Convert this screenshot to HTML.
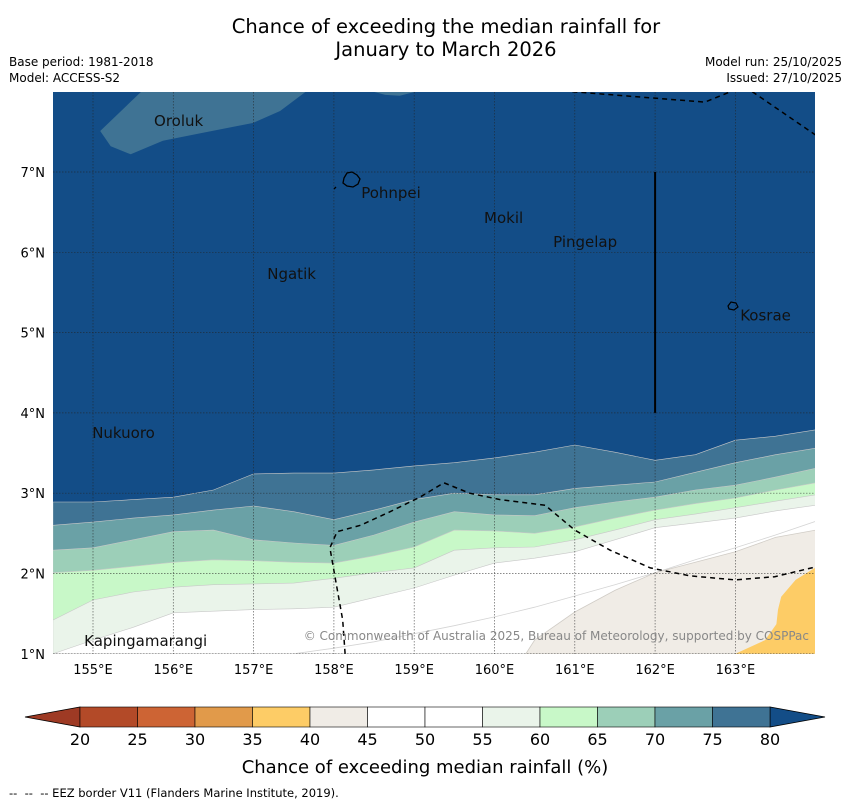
<!DOCTYPE html>
<html><head><meta charset="utf-8"><style>
body{margin:0;background:#fff;width:850px;height:804px;overflow:hidden;font-family:"Liberation Sans","DejaVu Sans",sans-serif}
svg{display:block}
</style></head><body>
<svg id="chart" width="850" height="804" viewBox="0 0 850 804" font-family="DejaVu Sans, Liberation Sans, sans-serif">
<text x="446" y="33" text-anchor="middle" font-size="19.5">Chance of exceeding the median rainfall for</text>
<text x="446" y="56" text-anchor="middle" font-size="19.5">January to March 2026</text>
<text x="9" y="66" font-size="12">Base period: 1981-2018</text>
<text x="9" y="82" font-size="12">Model: ACCESS-S2</text>
<text x="842" y="66" font-size="12" text-anchor="end">Model run: 25/10/2025</text>
<text x="842" y="82" font-size="12" text-anchor="end">Issued: 27/10/2025</text>
<defs><clipPath id="mapclip"><rect x="53" y="92" width="762" height="562"/></clipPath></defs>
<g id="map" clip-path="url(#mapclip)"></g>
<g id="overlay"></g>
<g id="cbar"></g>
<text x="425" y="773" text-anchor="middle" font-size="18">Chance of exceeding median rainfall (%)</text>
<text x="9" y="797" font-size="11.5">-- &#160;-- &#160;-- EEZ border V11 (Flanders Marine Institute, 2019).</text>
</svg>
<script>
const lonGrid=[154.5,155,155.5,156,156.5,157,157.5,158,158.5,159,159.5,160,160.5,161,161.5,162,162.5,163,163.5,164];
const b80=[2.89,2.89,2.92,2.95,3.04,3.24,3.25,3.25,3.29,3.34,3.38,3.44,3.51,3.60,3.51,3.41,3.48,3.66,3.71,3.79];
const b75=[2.60,2.64,2.69,2.73,2.79,2.84,2.77,2.67,2.79,2.92,3.00,2.98,2.98,3.06,3.10,3.14,3.26,3.38,3.48,3.56];
const b70=[2.29,2.32,2.42,2.52,2.54,2.42,2.38,2.35,2.48,2.64,2.77,2.73,2.72,2.82,2.89,2.95,3.04,3.10,3.20,3.31];
const b65=[2.01,2.04,2.09,2.14,2.17,2.16,2.14,2.13,2.22,2.33,2.54,2.53,2.50,2.58,2.69,2.79,2.87,2.94,3.04,3.13];
const b60=[1.42,1.67,1.77,1.83,1.86,1.87,1.88,1.94,2.01,2.07,2.29,2.32,2.33,2.42,2.54,2.67,2.74,2.82,2.90,2.98];
const b55=[1.00,1.17,1.33,1.51,1.53,1.55,1.56,1.58,1.70,1.82,1.98,2.13,2.19,2.27,2.42,2.57,2.63,2.69,2.78,2.85];
const b50Lon=[157.5,158,158.5,159,159.5,160,160.5,161,161.5,162,162.5,163,163.5,164];
const b50=[1.00,1.07,1.15,1.25,1.35,1.46,1.58,1.72,1.86,2.01,2.17,2.32,2.48,2.65];
const beigeLon=[160.39,160.5,161,161.5,162,162.5,163,163.5,164,164];
const beigeLat=[1.0,1.17,1.52,1.79,2.01,2.14,2.27,2.45,2.54,1.0];
const orangeLon=[163.99,163.75,163.57,163.53,163.51,163.37,163.0,164];
const orangeLat=[2.07,1.92,1.71,1.55,1.37,1.17,1.0,1.0];
const tlLon=[155.60,155.09,155.22,155.47,155.87,156.37,156.99,157.33,157.65];
const tlLat=[8.0,7.51,7.32,7.22,7.39,7.49,7.61,7.76,8.0];
const blobLon=[158.49,158.64,158.82,159.02];
const blobLat=[8.0,7.96,7.95,8.0];
const eezLon=[158.14,158.11,158.01,157.95,158.04,158.33,158.70,159.07,159.37,159.69,160.07,160.63,161.00,161.44,161.94,162.44,163.00,163.49,163.99];
const eezLat=[1.0,1.42,1.98,2.32,2.52,2.60,2.77,2.95,3.13,3.00,2.92,2.85,2.54,2.29,2.07,1.97,1.92,1.96,2.08];
const eez2Lon=[160.97,162.62,163.06];const eez2Lat=[8.0,7.87,8.05];
const eez3Lon=[163.21,164];const eez3Lat=[8.0,7.46];
const lonTicks=[155,156,157,158,159,160,161,162,163];
const latTicks=[1,2,3,4,5,6,7];
const places=["Oroluk","Pohnpei","Mokil","Pingelap","Ngatik","Kosrae","Nukuoro","Kapingamarangi"];
const placeLon=[155.76,158.34,159.87,160.73,157.17,163.06,154.99,154.89];
const placeLat=[7.635,6.74,6.43,6.13,5.73,5.21,3.75,1.16];
const cbLevels=[20,25,30,35,40,45,50,55,60,65,70,75,80];
const cbColors=["#b34a28","#cd6434","#e19a4a","#fdcc66","#f0ece6","#ffffff","#ffffff","#eaf4ea","#c8f8c8","#9ccfb8","#6aa1a6","#3f7394"];
const cbLow="#9e3a24", cbHigh="#134d87";

const X=lon=>93+(lon-155)*80.3, Y=lat=>172+(7-lat)*80.3;
const NS="http://www.w3.org/2000/svg";
function mk(tag,attrs,parent){const e=document.createElementNS(NS,tag);for(const k in attrs)e.setAttribute(k,attrs[k]);parent.appendChild(e);return e;}
const map=document.getElementById('map'), ov=document.getElementById('overlay'), cb=document.getElementById('cbar');
let bg=mk('rect',{x:53,y:92,width:762,height:562,fill:cbHigh},map);


function bandPath(lats,lons){lons=lons||lonGrid;let d='M'+X(lons[0])+','+Y(1);lons.forEach((l,i)=>d+=' L'+X(l).toFixed(1)+','+Y(lats[i]).toFixed(1));d+=' L'+X(lons[lons.length-1])+','+Y(1)+' Z';return d;}
const bands=[[b80,"#3f7394","band-75-80"],[b75,"#6aa1a6","band-70-75"],[b70,"#9ccfb8","band-65-70"],[b65,"#c8f8c8","band-60-65"],[b60,"#eaf4ea","band-55-60"],[b55,"#ffffff","band-50-55"]];
bands.forEach(b=>{const p=mk('path',{d:bandPath(b[0]),fill:b[1],stroke:"#c8c8c8","stroke-width":0.6},map);

});
function polyPath(lons,lats,close){let d='';lons.forEach((l,i)=>d+=(i?' L':'M')+X(l).toFixed(1)+','+Y(lats[i]).toFixed(1));return d+(close?' Z':'');}
let l50=mk('path',{d:polyPath(b50Lon,b50,false),fill:"none",stroke:"#d4d4d4","stroke-width":0.8},map);


let beige=mk('path',{d:polyPath(beigeLon,beigeLat,true),fill:"#f0ece6",stroke:"#d0ccc6","stroke-width":0.8},map);


let orange=mk('path',{d:polyPath(orangeLon,orangeLat,true),fill:"#fdcc66"},map);


let tl=mk('path',{d:polyPath(tlLon,tlLat,true),fill:"#3f7394"},map);


let blob=mk('path',{d:polyPath(blobLon,blobLat,true),fill:"#3f7394"},map);


lonTicks.forEach(l=>{const g=mk('line',{x1:X(l),x2:X(l),y1:92,y2:654,stroke:"#222","stroke-width":0.7,"stroke-dasharray":"1.5,1.5",opacity:0.7},map);

});
latTicks.forEach(l=>{const g=mk('line',{x1:53,x2:815,y1:Y(l),y2:Y(l),stroke:"#222","stroke-width":0.7,"stroke-dasharray":"1.5,1.5",opacity:0.7},map);

});
[[eezLon,eezLat],[eez2Lon,eez2Lat],[eez3Lon,eez3Lat]].forEach(e=>{const p=mk('path',{d:polyPath(e[0],e[1],false),fill:"none",stroke:"#000","stroke-width":1.5,"stroke-dasharray":"5,4"},map);

});
let vl=mk('line',{x1:X(162),x2:X(162),y1:Y(7),y2:Y(4),stroke:"#000","stroke-width":2},map);


let pi=mk('path',{d:"M344,178 L347,173 L352,172 L357,175 L360,179 L358,184 L353,187 L347,186 L343,183 Z M334,189 L336,187",fill:"none",stroke:"#000","stroke-width":1.3},map);


let ki=mk('path',{d:"M728,306 L731,302 L736,303 L738,307 L734,310 L729,309 Z",fill:"none",stroke:"#000","stroke-width":1.2},map);


places.forEach((n,i)=>{const t=mk('text',{x:X(placeLon[i]),y:Y(placeLat[i])+5,"font-size":15,fill:"#111"},map);t.textContent=n;

});
let cp=mk('text',{x:809,y:640,"font-size":12,"text-anchor":"end",fill:"#888"},map);cp.textContent="© Commonwealth of Australia 2025, Bureau of Meteorology, supported by COSPPac";


lonTicks.forEach(l=>{const t=mk('text',{x:X(l),y:674,"font-size":13,"text-anchor":"middle"},ov);t.textContent=l+"°E";

});
latTicks.forEach(l=>{const t=mk('text',{x:45,y:Y(l)+5,"font-size":13,"text-anchor":"end"},ov);t.textContent=l+"°N";

});
const cx=v=>80+(v-20)*11.5, cy0=707, cy1=727;
let lt=mk('polygon',{points:`25,717 ${cx(20)},${cy0} ${cx(20)},${cy1}`,fill:cbLow,stroke:"#000","stroke-width":0.8},cb);


let rt=mk('polygon',{points:`825,717 ${cx(80)},${cy0} ${cx(80)},${cy1}`,fill:cbHigh,stroke:"#000","stroke-width":0.8},cb);


cbColors.forEach((c,i)=>{const r=mk('rect',{x:cx(cbLevels[i]),y:cy0,width:cx(cbLevels[i+1])-cx(cbLevels[i]),height:20,fill:c,stroke:"#000","stroke-width":0.6},cb);

});
cbLevels.forEach(v=>{const t=mk('text',{x:cx(v),y:745,"font-size":16,"text-anchor":"middle"},cb);t.textContent=v;

});
</script>
</body></html>
